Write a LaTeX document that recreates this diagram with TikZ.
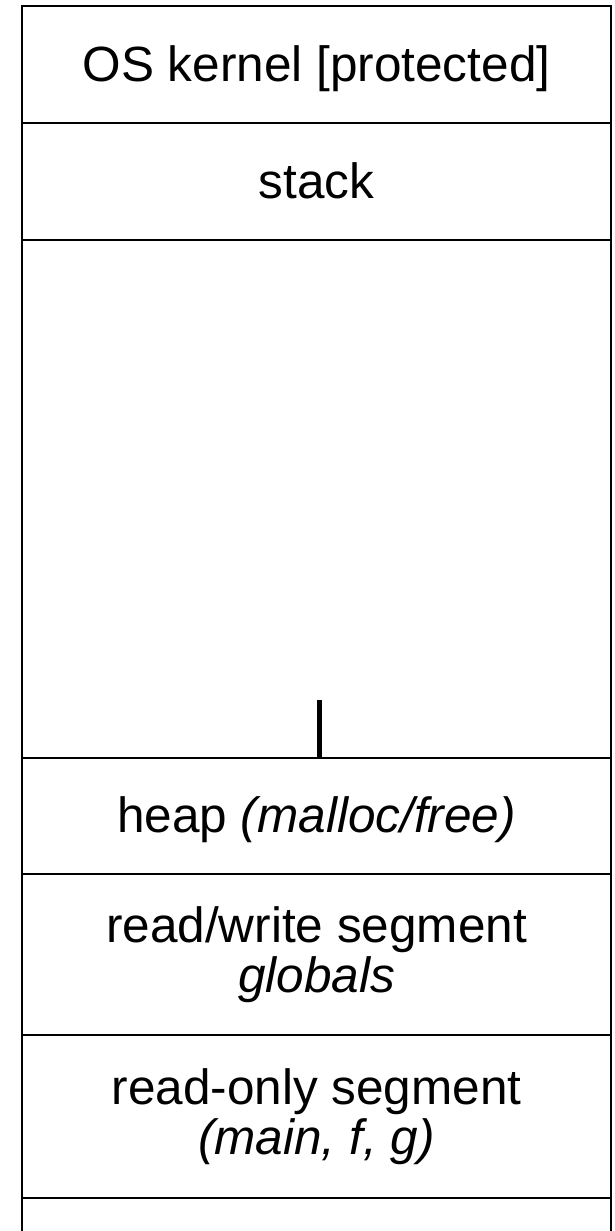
\documentclass[tikz,border=0pt]{standalone}
\usepackage{fontspec}
\setmainfont{Liberation Sans}
\usetikzlibrary{positioning}

\tikzset{
    segment/.style={draw, line width=2.2pt, minimum width=589pt, inner sep=0pt, outer sep=0pt,
        font=\fontsize{49.5}{50}\selectfont},
    oneline/.style={text height=44pt, text depth=10pt},
    twolines/.style={align=center}
}

\begin{document}
\begin{tikzpicture}[x=1pt, y=1pt]
                                \useasboundingbox (0, 0) rectangle (614, 1231);

                                \node[segment, oneline, minimum height=117pt, anchor=north west] (kernel) at (22, 1225) {OS kernel [protected]};
                                \node[segment, oneline, minimum height=117pt, below=0pt of kernel] (stack) {stack};
                                \node[segment, minimum height=518pt, below=0pt of stack] (unused) {};
                                \node[segment, oneline, minimum height=116pt, below=0pt of unused] (heap) {heap \textit{(malloc/free)}};
                                \node[segment, twolines, minimum height=161pt, below=0pt of heap] (rw) {read/write segment\\\textit{globals}};
                                \node[segment, twolines, minimum height=163pt, below=0pt of rw] (ro) {read-only segment\\\textit{(main, f, g)}};

                                \coordinate (base) at (0, 0);
                                \coordinate (grow) at (319, 531);
                                \draw[line width=2.2pt] (ro.south west) -- (ro.south west |- base);
                                \draw[line width=2.2pt] (ro.south east) -- (ro.south east |- base);
                                \draw[line width=5pt] (heap.north -| grow) -- (grow);
                            \end{tikzpicture}
\end{document}
